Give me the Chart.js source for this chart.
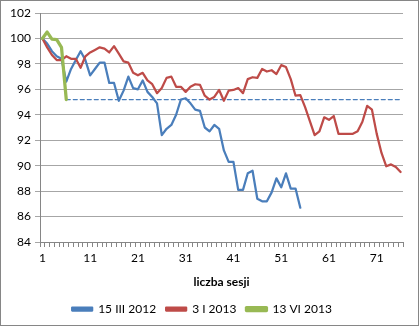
<!DOCTYPE html>
<html>
<head>
<meta charset="utf-8">
<script src="https://cdn.jsdelivr.net/npm/chart.js@4"></script>
<style>
  html, body { margin: 0; padding: 0; background: #fff; }
  #wrap { width: 419px; height: 326px; box-sizing: border-box; border: 1px solid #868686; position: relative; }
  canvas { display: block; }
</style>
</head>
<body>
<div id="wrap"><canvas id="chart" width="417" height="324"></canvas></div>
<script>
// numery sesji 1..76
var sessions = [];
for (var s = 1; s <= 76; s++) sessions.push(String(s));

var seriesNames = ['15 III 2012', '3 I 2013', '13 VI 2013'];

var mar2012 = [100, 99.6, 99.0, 98.6, 98.4, 96.6, 97.6, 98.3, 99.0, 98.3,
  97.1, 97.6, 98.1, 98.1, 96.5, 96.5, 95.1, 95.9, 97.0, 96.1,
  96.0, 96.7, 95.8, 95.4, 94.9, 92.4, 92.9, 93.2, 94.0, 95.2,
  95.3, 94.9, 94.4, 94.3, 93.0, 92.7, 93.2, 92.9, 91.2, 90.3,
  90.3, 88.1, 88.1, 89.4, 89.6, 87.4, 87.2, 87.2, 87.9, 89.0,
  88.3, 89.4, 88.2, 88.2, 86.7];

var jan2013 = [100, 99.3, 98.7, 98.3, 98.3, 98.6, 98.4, 98.4, 97.7, 98.6,
  98.9, 99.1, 99.3, 99.2, 98.9, 99.4, 98.8, 98.2, 98.1, 97.3,
  97.1, 97.3, 96.7, 96.4, 95.7, 96.1, 96.9, 97.0, 96.2, 96.2,
  95.8, 96.2, 96.4, 96.35, 95.5, 95.2, 95.4, 95.95, 95.1, 95.9,
  95.95, 96.1, 95.7, 96.8, 96.95, 96.9, 97.6, 97.4, 97.5, 97.2,
  97.9, 97.75, 96.8, 95.5, 95.55, 94.6, 93.5, 92.4, 92.7, 93.8,
  93.6, 93.9, 92.5, 92.5, 92.5, 92.5, 92.7, 93.45, 94.7, 94.4,
  92.5, 91.0, 89.95, 90.1, 89.9, 89.5];

var jun2013 = [100, 100.5, 99.95, 99.9, 99.3, 95.2];

// poziom odniesienia: ostatnia wartość z czerwca 2013, od sesji 6
var refLevel = jun2013[jun2013.length - 1];
var refLine = sessions.map(function (v, i) { return i >= jun2013.length - 1 ? refLevel : null; });

var yTicks = { min: 84, max: 102, step: 2 };

var font = { family: 'Lato, "Open Sans", sans-serif', size: 12 };

new Chart(document.getElementById('chart'), {
  type: 'line',
  data: {
    labels: sessions,
    datasets: [
      { label: '', data: refLine, borderColor: '#4A7EBB', borderWidth: 1.25, borderDash: [4, 3], order: 4 },
      { label: seriesNames[0], data: mar2012, borderColor: '#4A7EBB', backgroundColor: '#4A7EBB', borderWidth: 2.25, order: 3 },
      { label: seriesNames[1], data: jan2013, borderColor: '#BE4B48', backgroundColor: '#BE4B48', borderWidth: 2.25, order: 2 },
      { label: seriesNames[2], data: jun2013, borderColor: '#98B954', backgroundColor: '#98B954', borderWidth: 3.25, order: 1 }
    ]
  },
  options: {
    responsive: false,
    animation: false,
    elements: { point: { radius: 0 }, line: { tension: 0, borderCapStyle: 'round', borderJoinStyle: 'round' } },
    layout: { padding: { top: 12, right: 15, left: 0, bottom: 0 } },
    plugins: {
      tooltip: { enabled: false },
      legend: {
        position: 'bottom',
        labels: {
          font: font, color: '#000', boxWidth: 20, boxHeight: 3, padding: 10,
          filter: function (item) { return item.text !== ''; },
          sort: function (a, b) { return a.datasetIndex - b.datasetIndex; }
        }
      }
    },
    scales: {
      x: {
        offset: true,
        grid: { offset: true, drawOnChartArea: false, color: '#868686', tickLength: 5 },
        border: { color: '#868686' },
        ticks: {
          autoSkip: false, maxRotation: 0, color: '#000', font: font, padding: 4,
          callback: function (v, i) { return i % 10 === 0 ? sessions[i] : ''; }
        },
        title: { display: true, text: 'liczba sesji', color: '#000', font: { family: font.family, size: 12, weight: 'bold' }, padding: { top: 1, bottom: 4 } },
        afterFit: function (scale) { scale.height = 51; }
      },
      y: {
        min: yTicks.min, max: yTicks.max,
        grid: { color: '#A6A6A6', tickLength: 5 },
        border: { color: '#868686' },
        ticks: { stepSize: yTicks.step, color: '#000', font: font, padding: 4 },
        afterFit: function (scale) { scale.width = 39; }
      }
    }
  }
});
</script>
</body>
</html>
